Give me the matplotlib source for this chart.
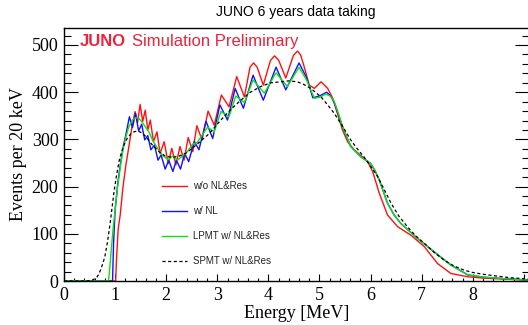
import numpy as np
import matplotlib
matplotlib.use("Agg")
import matplotlib.pyplot as plt
from matplotlib.ticker import MultipleLocator

plt.rcParams['font.family'] = 'Liberation Serif'

# spectra (energy in MeV, events per 20 keV)
red_e = [0.0, 1.01, 1.03, 1.06, 1.10, 1.15, 1.21, 1.27, 1.32, 1.39, 1.44, 1.49, 1.54, 1.59, 1.64, 1.69,
         1.75, 1.82, 1.88, 1.96, 2.04, 2.11, 2.19, 2.27, 2.35, 2.43, 2.52, 2.60, 2.70, 2.82, 2.94, 3.08,
         3.23, 3.38, 3.53, 3.64, 3.71, 3.78, 3.90, 4.04, 4.12, 4.20, 4.34, 4.49, 4.57, 4.63, 4.70, 4.80,
         4.90, 5.03, 5.16, 5.26, 5.35, 5.45, 5.55, 5.68, 5.84, 5.94, 6.04, 6.17, 6.33, 6.53, 6.79, 7.05,
         7.31, 7.57, 7.90, 8.22, 8.60, 9.10]
red_y = [0, 0, 50, 110, 140, 195, 245, 285, 320, 359, 336, 374, 338, 362, 320, 341,
         295, 316, 270, 295, 249, 281, 246, 285, 256, 304, 274, 329, 299, 360, 330, 394,
         369, 433, 390, 453, 462, 453, 415, 467, 477, 468, 430, 478, 487, 479, 454, 415,
         408, 422, 408, 387, 355, 320, 295, 278, 263, 253, 232, 186, 140, 115, 97, 73,
         37, 16, 9, 6, 4, 2]

blue_e = [0.0, 0.95, 0.97, 1.00, 1.05, 1.10, 1.16, 1.22, 1.28, 1.34, 1.40, 1.46, 1.52, 1.58, 1.64, 1.70,
          1.77, 1.84, 1.90, 1.98, 2.05, 2.13, 2.20, 2.28, 2.36, 2.44, 2.55, 2.64, 2.78, 2.91, 3.05, 3.20,
          3.35, 3.51, 3.70, 3.90, 4.15, 4.34, 4.60, 4.75, 4.87, 5.00, 5.14, 5.22, 5.30, 5.45, 5.61, 5.81,
          6.00, 6.08, 6.17, 6.33, 6.46, 6.59, 6.92, 7.24, 7.57, 7.90, 8.22, 8.60, 9.10]
blue_y = [0, 0, 80, 150, 205, 245, 285, 315, 348, 325, 355, 318, 332, 299, 308, 278,
          288, 256, 267, 237, 256, 232, 256, 237, 270, 253, 296, 278, 338, 302, 373, 341,
          408, 366, 436, 383, 453, 405, 462, 430, 388, 392, 400, 392, 375, 327, 285, 263,
          249, 235, 214, 165, 140, 122, 90, 62, 34, 13, 8, 5, 2]

green_e = [0.0, 0.87, 0.89, 0.92, 0.96, 1.00, 1.05, 1.10, 1.15, 1.21, 1.27, 1.34, 1.40, 1.46, 1.52, 1.57,
           1.66, 1.75, 1.85, 1.94, 2.04, 2.13, 2.22, 2.32, 2.42, 2.52, 2.61, 2.71, 2.81, 2.94, 3.07, 3.23,
           3.36, 3.53, 3.70, 3.92, 4.15, 4.37, 4.60, 4.75, 4.90, 5.02, 5.12, 5.21, 5.29, 5.37, 5.45, 5.61,
           5.81, 6.00, 6.08, 6.17, 6.33, 6.46, 6.59, 6.92, 7.24, 7.57, 7.90, 8.22, 8.60, 9.10]
green_y = [0, 0, 20, 60, 110, 150, 200, 240, 275, 305, 327, 341, 346, 345, 338, 330,
           316, 295, 278, 265, 257, 265, 256, 265, 275, 290, 294, 310, 326, 316, 359, 348,
           392, 378, 426, 398, 441, 412, 453, 425, 387, 390, 396, 392, 380, 355, 327, 285,
           263, 249, 235, 214, 165, 140, 122, 90, 62, 34, 13, 8, 5, 2]

spmt_e = [0.0, 0.45, 0.55, 0.63, 0.68, 0.72, 0.76, 0.80, 0.85, 0.90, 0.94, 0.98, 1.03, 1.08, 1.13, 1.18,
          1.24, 1.31, 1.37, 1.44, 1.52, 1.60, 1.73, 1.86, 1.99, 2.13, 2.26, 2.39, 2.52, 2.65, 2.84, 3.07,
          3.26, 3.46, 3.65, 3.85, 4.05, 4.24, 4.40, 4.57, 4.70, 4.83, 5.03, 5.16, 5.29, 5.45, 5.61, 5.74,
          5.87, 6.00, 6.14, 6.27, 6.40, 6.55, 6.72, 6.88, 7.05, 7.25, 7.44, 7.63, 7.83, 8.00, 8.22, 8.50,
          8.73, 9.10]
spmt_y = [0, 0, 2, 6, 14, 25, 37, 52, 82, 120, 155, 190, 225, 255, 275, 290,
          303, 312, 316, 318, 314, 306, 288, 274, 264, 262, 265, 271, 282, 294, 312, 341,
          363, 383, 400, 412, 420, 422, 424, 422, 416, 408, 390, 373, 355, 328, 299, 280,
          263, 243, 221, 193, 165, 138, 115, 96, 80, 60, 44, 32, 23, 18, 14, 10,
          7, 4]

labels = ["w/o NL&Res", "w/ NL", "LPMT w/ NL&Res", "SPMT w/ NL&Res"]
xtick_labels = ["0", "1", "2", "3", "4", "5", "6", "7", "8", ""]

W, H = 528, 325
fig = plt.figure(figsize=(W / 100, H / 100), dpi=100)
ax = fig.add_axes([64 / W, 44 / H, 465 / W, 253 / H])

l1, = ax.plot(red_e, red_y, color='#ff1010', lw=1.0)
l2, = ax.plot(blue_e, blue_y, color='#1010ff', lw=1.0)
l3, = ax.plot(green_e, green_y, color='#10e010', lw=1.0)
l4, = ax.plot(spmt_e, spmt_y, color='black', lw=0.9, linestyle=(0, (2.5, 2)))

ax.set_xlim(0, 9.1)
ax.set_ylim(0, 536)
ax.set_xticks(range(len(xtick_labels)))
ax.set_xticklabels(xtick_labels)
ax.xaxis.set_minor_locator(MultipleLocator(0.2))
ax.yaxis.set_major_locator(MultipleLocator(100))
ax.yaxis.set_minor_locator(MultipleLocator(20))

for s in ax.spines.values():
    s.set_linewidth(1.0)
ax.tick_params(axis='both', which='both', direction='in', top=False, right=True, width=0.8)
ax.tick_params(axis='y', which='major', length=10, pad=4, labelsize=13)
ax.tick_params(axis='y', which='minor', length=5)
ax.tick_params(axis='x', which='major', length=5, pad=4, labelsize=13)
ax.tick_params(axis='x', which='minor', length=2.5)

ax.set_xlabel("Energy [MeV]", fontsize=13, labelpad=1)
ax.set_ylabel("Events per 20 keV", fontsize=13, labelpad=3)

fig.text(296 / W, 1 - 12 / H, "JUNO 6 years data taking", ha='center', va='center',
         fontsize=10, family='Liberation Sans')
fig.text(80 / W, 1 - 46 / H, "JUNO", color='#e8253a', fontsize=12, fontweight='bold',
         family='Liberation Sans', va='baseline')
fig.text(132 / W, 1 - 46 / H, "Simulation Preliminary", color='#e8253a', fontsize=12,
         family='Liberation Sans', va='baseline')

leg = ax.legend([l1, l2, l3, l4], labels, loc='upper left',
                bbox_to_anchor=(162 / W, 1 - 181 / H), bbox_transform=fig.transFigure,
                frameon=False, prop={'family': 'Liberation Sans', 'size': 7},
                handlelength=2.6, handletextpad=0.55, labelspacing=1.55,
                borderpad=0, borderaxespad=0)
for t in leg.get_texts():
    t.set_color('#222222')

fig.savefig("out.png", dpi=100)
